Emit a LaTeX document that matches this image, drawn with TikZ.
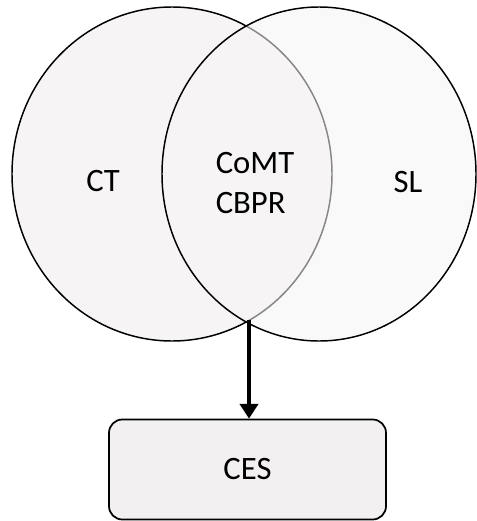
\documentclass[tikz,border=0pt]{standalone}
\usepackage{fontspec}
\setmainfont{Carlito}
\usepackage{tikz}
\usetikzlibrary{arrows.meta, positioning, shapes.geometric}

\begin{document}
\begin{tikzpicture}[
    x=0.75pt, y=-0.75pt,
    % Global styles
    font=\fontsize{24.5}{30}\selectfont,
    >={Triangle[length=11pt, width=13.5pt]},
    % Set styles
    setbox/.style={
      ellipse, draw=black, line width=1.1pt, fill=#1,
      inner sep=0pt, outer sep=0pt
    },
    setlabel/.style={align=left, text=black},
    % Output box
    outbox/.style={
      rectangle, rounded corners=10pt, draw=black, fill=boxgray,
      line width=1.3pt, minimum width=207.75pt, minimum height=75pt
    },
    arr/.style={->, line width=3pt, color=black},
  ]
  \definecolor{setgray}{HTML}{F6F4F5}
  \definecolor{boxgray}{HTML}{F2F0F1}
  \useasboundingbox (0,0) rectangle (476,521);

  % ====================================================================
  % SETS
  % ====================================================================
  \node[setbox=setgray, minimum width=240pt, minimum height=250.5pt] (ct) at (172,174) {};
  \node[setbox=setgray, fill opacity=0.55, minimum width=235.5pt, minimum height=250.5pt] (sl) at (319,174) {};

  % Labels
  \node[setlabel] (ctlab) at (103,181) {CT};
  \node[setlabel] (sllab) at (408,182) {SL};
  \node[setlabel] (both) at (255,183) {CoMT\\CBPR};

  % ====================================================================
  % OUTPUT
  % ====================================================================
  \coordinate (meet) at (249,320);
  \node[outbox] (ces) at (247.5,469.5) {CES};

  % Arrow
  \draw[arr] (meet) -- (meet |- ces.north);

\end{tikzpicture}
\end{document}
